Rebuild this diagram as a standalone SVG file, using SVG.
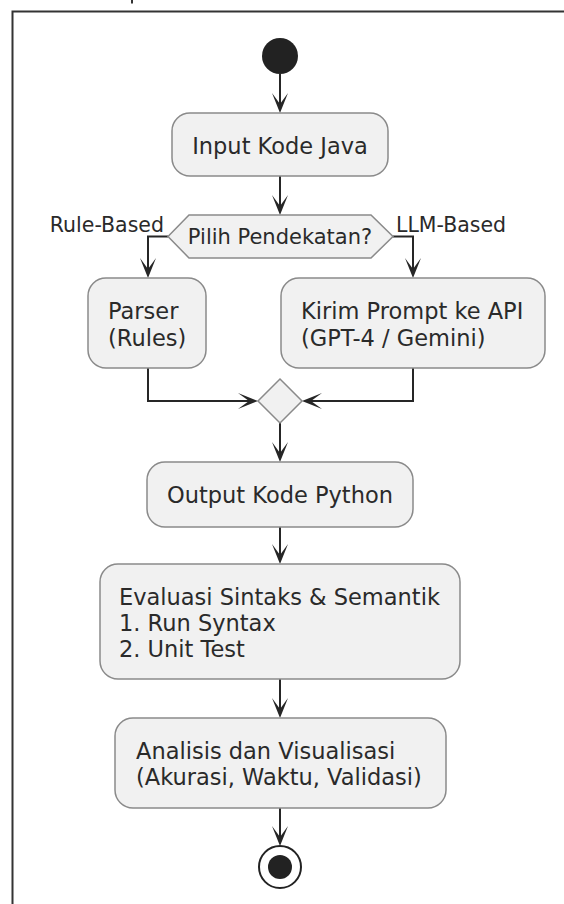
<svg xmlns="http://www.w3.org/2000/svg" width="564" height="904" viewBox="0 0 564 904">
  <style>
    .frame { fill: none; stroke: #333333; stroke-width: 2; }
    .act { fill: #f1f1f1; stroke: #8a8a8a; stroke-width: 1.5; }
    .dec { fill: #f1f1f1; stroke: #8a8a8a; stroke-width: 1.5; }
    .edge { fill: none; stroke: #262626; stroke-width: 2; marker-end: url(#arrow); }
    .txt { font-family: "DejaVu Sans", "Noto Sans", sans-serif; font-size: 22.5px; fill: #2a2a2a; }
    .lbl { font-family: "DejaVu Sans", "Noto Sans", sans-serif; font-size: 20.5px; fill: #2a2a2a; }
    .cond { font-size: 21px; }
    .mid { text-anchor: middle; }
    .end { text-anchor: end; }
  </style>
  <defs>
    <marker id="arrow" markerUnits="userSpaceOnUse" viewBox="-20 -10 24 20" refX="0" refY="0" markerWidth="24" markerHeight="20" orient="auto">
      <path d="M3,0 L-17,-8 L-6,0 L-17,8 Z" fill="#262626"/>
    </marker>
  </defs>

  <rect width="564" height="904" fill="#ffffff"/>

  <!-- page frame -->
  <g id="frame">
    <path class="frame" d="M12.5,904 V11.5 H564"/>
    <line x1="132" y1="0" x2="132" y2="3.5" stroke="#333333" stroke-width="2"/>
  </g>

  <!-- connectors -->
  <g id="connectors">
    <path class="edge" d="M280,74 V110"/>
    <path class="edge" d="M280,176 V212"/>
    <path class="edge" d="M168,236.5 H148 V275"/>
    <path class="edge" d="M393,236.5 H413 V275"/>
    <path class="edge" d="M148,368 V401 H255"/>
    <path class="edge" d="M413,368 V401 H305"/>
    <path class="edge" d="M280,423 V459"/>
    <path class="edge" d="M280,527 V561"/>
    <path class="edge" d="M280,679 V715"/>
    <path class="edge" d="M280,808 V843"/>
    <text class="lbl end" x="164" y="232">Rule-Based</text>
    <text class="lbl" x="396" y="232">LLM-Based</text>
  </g>

  <g id="start">
    <circle cx="280" cy="56" r="18" fill="#222222"/>
  </g>

  <g id="input-java">
    <rect class="act" x="172" y="113" width="216" height="63" rx="18"/>
    <text class="txt mid" x="280" y="153.5">Input Kode Java</text>
  </g>

  <g id="choose-approach">
    <polygon class="dec" points="168,236.5 189,215 371,215 393,236.5 371,258 189,258"/>
    <text class="lbl cond mid" x="280" y="244">Pilih Pendekatan?</text>
  </g>

  <g id="parser-rules">
    <rect class="act" x="88" y="278" width="118" height="90" rx="18"/>
    <text class="txt" x="108" y="319">Parser</text>
    <text class="txt" x="108" y="345.5">(Rules)</text>
  </g>

  <g id="send-prompt">
    <rect class="act" x="281" y="278" width="264" height="90" rx="18"/>
    <text class="txt" x="301" y="319">Kirim Prompt ke API</text>
    <text class="txt" x="301" y="345.5">(GPT-4 / Gemini)</text>
  </g>

  <g id="merge">
    <polygon class="dec" points="280,379 302,401 280,423 258,401"/>
  </g>

  <g id="output-python">
    <rect class="act" x="147" y="462" width="266" height="65" rx="18"/>
    <text class="txt mid" x="280" y="503">Output Kode Python</text>
  </g>

  <g id="evaluation">
    <rect class="act" x="100" y="564" width="360" height="115" rx="18"/>
    <text class="txt" x="119" y="605">Evaluasi Sintaks &amp; Semantik</text>
    <text class="txt" x="119" y="631">1. Run Syntax</text>
    <text class="txt" x="119" y="657">2. Unit Test</text>
  </g>

  <g id="analysis">
    <rect class="act" x="115" y="718" width="331" height="90" rx="18"/>
    <text class="txt" x="136" y="759">Analisis dan Visualisasi</text>
    <text class="txt" x="136" y="785">(Akurasi, Waktu, Validasi)</text>
  </g>

  <g id="stop">
    <circle cx="280" cy="867" r="21" fill="#ffffff" stroke="#222222" stroke-width="2"/>
    <circle cx="280" cy="867" r="12" fill="#222222"/>
  </g>
</svg>
